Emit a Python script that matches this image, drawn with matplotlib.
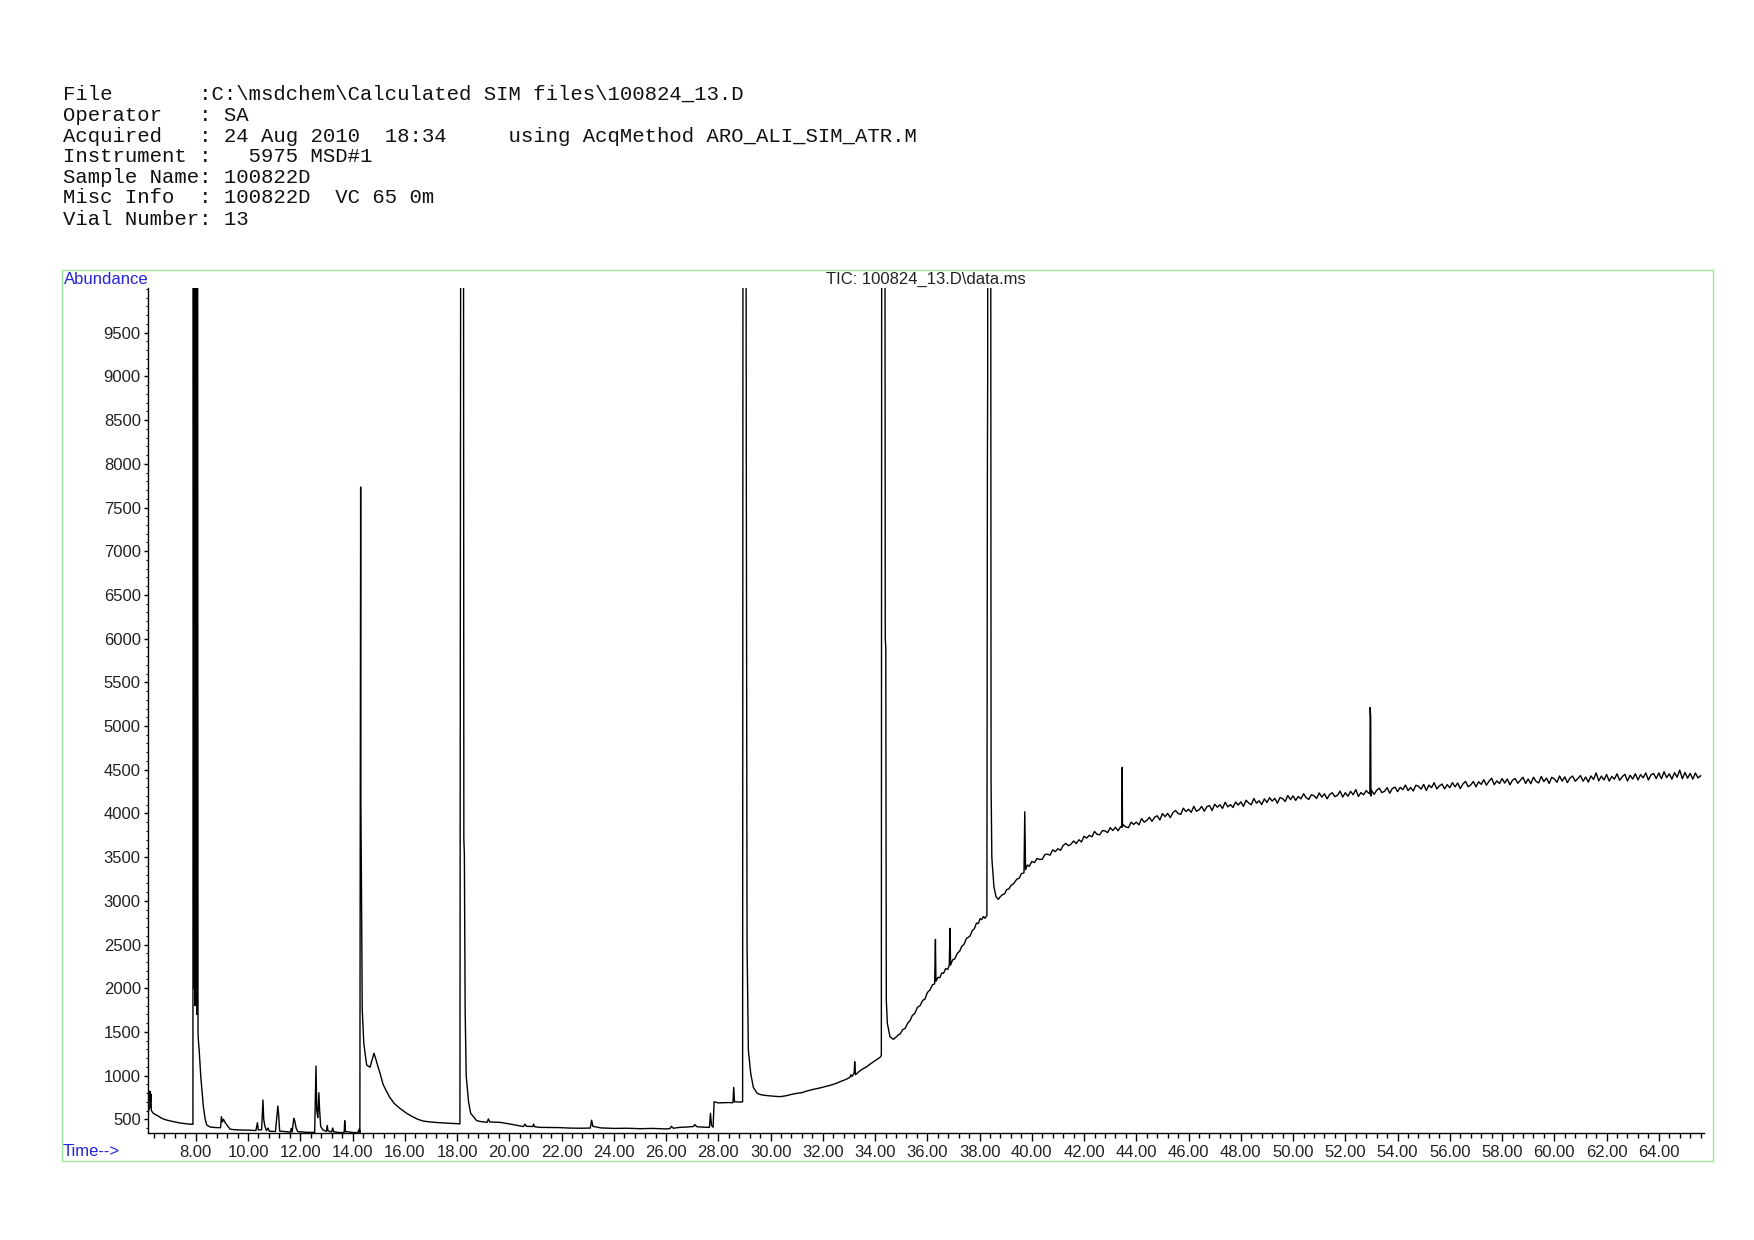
import matplotlib
matplotlib.use("Agg")
import matplotlib.pyplot as plt
from matplotlib.patches import Rectangle
from matplotlib.ticker import MultipleLocator, FormatStrFormatter

# figure size in pixels (dpi 100)
W, H = 1754, 1240

header_lines = [
    "File       :C:\\msdchem\\Calculated SIM files\\100824_13.D",
    "Operator   : SA",
    "Acquired   : 24 Aug 2010  18:34     using AcqMethod ARO_ALI_SIM_ATR.M",
    "Instrument :   5975 MSD#1",
    "Sample Name: 100822D",
    "Misc Info  : 100822D  VC 65 0m",
    "Vial Number: 13",
]
trace_title = "TIC: 100824_13.D\\data.ms"

# retention time (min) / abundance
# off-scale peaks are given a value above the plot top (clipped)
t_early = [6.15, 6.20, 6.24, 6.25, 6.27, 6.28, 6.30, 6.37, 6.45, 6.55, 6.65, 6.75, 6.90,
           7.05, 7.20, 7.40, 7.60, 7.75, 7.89,
           7.905, 7.925, 7.945, 7.965, 7.985, 8.005, 8.025, 8.045, 8.065, 8.085,
           8.10, 8.13, 8.19, 8.29, 8.36, 8.42, 8.55, 8.75, 8.95,
           8.98, 9.02, 9.06, 9.12, 9.20, 9.31, 9.50, 9.75, 10.00, 10.30, 10.36, 10.39, 10.52,
           10.57, 10.60, 10.64, 10.70, 10.77, 10.81, 11.05, 11.14, 11.17, 11.21, 11.50, 11.62,
           11.65, 11.69, 11.75, 11.79, 11.84, 11.90, 12.20, 12.55, 12.60, 12.63, 12.67, 12.71,
           12.74, 12.78, 12.86, 13.00, 13.03, 13.06, 13.20, 13.24, 13.28, 13.50, 13.68, 13.70,
           13.73, 14.00, 14.20, 14.26, 14.28,
           14.31, 14.32, 14.34, 14.37, 14.43, 14.54, 14.67, 14.75, 14.82, 14.88, 14.98, 15.05,
           15.17, 15.30, 15.43, 15.60, 15.81, 16.07, 16.32, 16.50, 16.71, 16.96, 17.30, 17.70,
           18.11,
           18.15, 18.24, 18.26, 18.28, 18.31, 18.35, 18.44, 18.52, 18.63, 18.75, 18.90, 19.15,
           19.20, 19.25, 19.65, 20.03, 20.30, 20.54, 20.60, 20.65, 20.90, 20.93, 20.97, 21.18,
           21.60, 21.95]
a_early = [620, 605, 640, 820, 700, 790, 600, 570, 555, 540, 520, 505, 490,
           480, 470, 458, 450, 445, 443,
           15000, 2000, 15000, 1800, 15000, 2200, 15000, 1700, 15000, 1500,
           1400, 1290, 990, 644, 500, 435, 412, 406, 404,
           530, 470, 500, 465, 430, 388, 380, 378, 376, 372, 462, 380, 380,
           721, 500, 430, 372, 400, 365, 360, 652, 560, 365, 358, 352,
           395, 355, 511, 480, 400, 360, 352, 350, 1110, 600, 520, 805,
           600, 420, 380, 362, 430, 368, 355, 400, 358, 348, 350, 484,
           360, 350, 348, 390, 348,
           7735, 4070, 3231, 1766, 1369, 1121, 1096, 1180, 1256, 1200, 1096, 1030,
           899, 820, 749, 680, 626, 569, 526, 500, 480, 470, 462, 455,
           448,
           15000, 15000, 3700, 3530, 1742, 998, 700, 570, 530, 485, 475, 465,
           505, 470, 465, 446, 430, 417, 445, 420, 418, 445, 415, 408,
           406, 405]

t_mid = [22.30, 22.70, 23.10, 23.15, 23.20, 23.50, 24.00, 24.50, 25.00, 25.50, 26.00, 26.15,
         26.20, 26.28, 26.53, 26.80, 27.05, 27.10, 27.18, 27.45, 27.66, 27.70, 27.74, 27.80,
         27.84, 28.00, 28.20, 28.40, 28.56, 28.59, 28.62, 28.80, 28.93,
         28.95, 29.05, 29.07, 29.10, 29.15, 29.24, 29.34, 29.49, 29.65, 29.85, 30.10, 30.36,
         30.60, 30.80, 31.00, 31.20, 31.40, 31.64, 31.90, 32.10, 32.28, 32.50, 32.70, 32.92,
         33.05, 33.07, 33.12, 33.20, 33.22, 33.25, 33.40, 33.55, 33.68, 33.85, 34.00, 34.19,
         34.24,
         34.26, 34.37, 34.39, 34.41, 34.43, 34.47, 34.57, 34.70, 34.82, 34.90, 34.96, 35.05,
         35.15, 35.25, 35.34, 35.43, 35.52, 35.62, 35.72, 35.82, 35.91, 36.00, 36.10, 36.20,
         36.28, 36.31, 36.33, 36.41, 36.48, 36.55, 36.62, 36.70, 36.78, 36.84,
         36.87, 36.89, 36.97, 37.05, 37.15, 37.24, 37.32, 37.40, 37.50, 37.63, 37.72, 37.80,
         37.88, 37.95, 38.02, 38.08, 38.15, 38.20, 38.28,
         38.30, 38.31, 38.32, 38.42, 38.44, 38.47, 38.55, 38.63, 38.72, 38.80, 38.88, 38.96,
         39.04, 39.12, 39.20, 39.30, 39.42, 39.52, 39.60, 39.70, 39.73, 39.76, 39.83, 39.90]
a_mid = [400, 398, 400, 490, 420, 402, 396, 398, 393, 396, 390, 395,
         420, 398, 408, 412, 418, 440, 415, 410, 408, 569, 430, 410,
         701, 688, 690, 692, 690, 866, 700, 698, 700,
         15000, 15000, 8250, 2500, 1293, 1026, 866, 797, 780, 772, 765, 759,
         770, 785, 797, 805, 825, 843, 860, 875, 889, 910, 935, 961,
         985, 1010, 990, 1030, 1159, 1010, 1050, 1080, 1102, 1140, 1170, 1209,
         1230,
         15000, 15000, 6000, 5900, 1865, 1598, 1445, 1415, 1445, 1470, 1475, 1525,
         1540, 1600, 1630, 1690, 1710, 1780, 1800, 1860, 1875, 1950, 1980, 2040,
         2050, 2559, 2080, 2125, 2120, 2175, 2170, 2225, 2215, 2262,
         2685, 2265, 2325, 2335, 2400, 2425, 2480, 2500, 2570, 2595, 2660, 2680,
         2745, 2740, 2795, 2785, 2820, 2800, 2830,
         8000, 8957, 15000, 15000, 4347, 3490, 3161, 3047, 3017, 3050, 3070, 3080,
         3130, 3135, 3175, 3195, 3245, 3260, 3310, 3320, 4019, 3355, 3410, 3395]

t_late = [40.0, 40.1, 40.2, 40.3, 40.4, 40.5, 40.6, 40.7, 40.8, 40.9,
          41.0, 41.1, 41.2, 41.3, 41.4, 41.5, 41.6, 41.7, 41.8, 41.9,
          42.0, 42.1, 42.2, 42.3, 42.4, 42.5, 42.6, 42.7, 42.8, 42.9,
          43.0, 43.1, 43.2, 43.3, 43.4, 43.45, 43.46, 43.47, 43.5, 43.6, 43.7, 43.8, 43.9,
          44.0, 44.1, 44.2, 44.3, 44.4, 44.5, 44.6, 44.7, 44.8, 44.9,
          45.0, 45.1, 45.2, 45.3, 45.4, 45.5, 45.6, 45.7, 45.8, 45.9,
          46.0, 46.1, 46.2, 46.3, 46.4, 46.5, 46.6, 46.7, 46.8, 46.9,
          47.0, 47.1, 47.2, 47.3, 47.4, 47.5, 47.6, 47.7, 47.8, 47.9,
          48.0, 48.1, 48.2, 48.3, 48.4, 48.5, 48.6, 48.7, 48.8, 48.9,
          49.0, 49.1, 49.2, 49.3, 49.4, 49.5, 49.6, 49.7, 49.8, 49.9,
          50.0, 50.1, 50.2, 50.3, 50.4, 50.5, 50.6, 50.7, 50.8, 50.9,
          51.0, 51.1, 51.2, 51.3, 51.4, 51.5, 51.6, 51.7, 51.8, 51.9,
          52.0, 52.1, 52.2, 52.3, 52.4, 52.5, 52.6, 52.7, 52.8, 52.9,
          52.94, 52.95, 52.97, 52.98,
          53.0, 53.1, 53.2, 53.3, 53.4, 53.5, 53.6, 53.7, 53.8, 53.9,
          54.0, 54.1, 54.2, 54.3, 54.4, 54.5, 54.6, 54.7, 54.8, 54.9,
          55.0, 55.1, 55.2, 55.3, 55.4, 55.5, 55.6, 55.7, 55.8, 55.9,
          56.0, 56.1, 56.2, 56.3, 56.4, 56.5, 56.6, 56.7, 56.8, 56.9,
          57.0, 57.1, 57.2, 57.3, 57.4, 57.5, 57.6, 57.7, 57.8, 57.9,
          58.0, 58.1, 58.2, 58.3, 58.4, 58.5, 58.6, 58.7, 58.8, 58.9,
          59.0, 59.1, 59.2, 59.3, 59.4, 59.5, 59.6, 59.7, 59.8, 59.9,
          60.0, 60.1, 60.2, 60.3, 60.4, 60.5, 60.6, 60.7, 60.8, 60.9,
          61.0, 61.1, 61.2, 61.3, 61.4, 61.5, 61.6, 61.7, 61.8, 61.9,
          62.0, 62.1, 62.2, 62.3, 62.4, 62.5, 62.6, 62.7, 62.8, 62.9,
          63.0, 63.1, 63.2, 63.3, 63.4, 63.5, 63.6, 63.7, 63.8, 63.9,
          64.0, 64.1, 64.2, 64.3, 64.4, 64.5, 64.6, 64.7, 64.8, 64.9,
          65.0, 65.1, 65.2, 65.3, 65.4, 65.5, 65.6]
a_late = [3450, 3437, 3485, 3473, 3475, 3530, 3533, 3523, 3583, 3563,
          3596, 3578, 3633, 3658, 3630, 3648, 3685, 3655, 3699, 3673,
          3739, 3718, 3750, 3732, 3794, 3761, 3756, 3803, 3800, 3780,
          3837, 3804, 3842, 3802, 3848, 3840, 4527, 3850, 3869, 3845, 3837, 3900, 3874,
          3900, 3869, 3941, 3900, 3919, 3956, 3909, 3956, 3973, 3925,
          3998, 3963, 4001, 3952, 4008, 4034, 3999, 3989, 4060, 4021,
          4048, 4012, 4081, 4025, 4040, 4080, 4025, 4076, 4091, 4033,
          4106, 4071, 4099, 4057, 4128, 4075, 4101, 4068, 4129, 4096,
          4132, 4081, 4151, 4119, 4099, 4171, 4117, 4145, 4101, 4167,
          4125, 4180, 4141, 4172, 4117, 4182, 4169, 4137, 4205, 4158,
          4201, 4149, 4194, 4166, 4225, 4181, 4159, 4213, 4203, 4172,
          4234, 4186, 4225, 4167, 4217, 4237, 4191, 4208, 4255, 4187,
          4237, 4196, 4253, 4213, 4272, 4194, 4239, 4213, 4261, 4229,
          4230, 5213, 5100, 4200,
          4265, 4218, 4265, 4289, 4238, 4253, 4295, 4231, 4285, 4301,
          4249, 4299, 4271, 4325, 4262, 4297, 4257, 4322, 4311, 4278,
          4332, 4262, 4324, 4295, 4352, 4280, 4315, 4336, 4281, 4329,
          4294, 4352, 4304, 4348, 4284, 4336, 4367, 4305, 4325, 4366,
          4304, 4362, 4333, 4386, 4323, 4369, 4402, 4329, 4372, 4341,
          4399, 4347, 4394, 4327, 4380, 4399, 4345, 4379, 4414, 4343,
          4394, 4340, 4414, 4367, 4349, 4423, 4364, 4405, 4343, 4413,
          4395, 4356, 4428, 4369, 4418, 4352, 4406, 4427, 4368, 4399,
          4433, 4368, 4417, 4358, 4429, 4388, 4463, 4372, 4427, 4383,
          4446, 4370, 4424, 4392, 4453, 4379, 4420, 4448, 4371, 4437,
          4393, 4454, 4383, 4444, 4407, 4463, 4382, 4441, 4457, 4398,
          4463, 4396, 4477, 4409, 4453, 4392, 4466, 4414, 4495, 4396,
          4469, 4403, 4458, 4392, 4462, 4406, 4431]

times = t_early + t_mid + t_late
abundance = a_early + a_mid + a_late


def fx(px):
    return px / W


def fy(py):
    return 1 - py / H


fig = plt.figure(figsize=(W / 100, H / 100), dpi=100)

# header block
header_y = [93.8, 115.1, 136.4, 156.5, 177.7, 197.9, 219.1]
for line, y in zip(header_lines, header_y):
    fig.text(fx(62.6), fy(y), line, family="Liberation Mono", fontsize=14.9,
             ha="left", va="center", color="#111111")

# green frame around the chart
fig.add_artist(Rectangle((fx(62), fy(1161)), fx(1712.6) - fx(62), fy(269.5) - fy(1161),
                         transform=fig.transFigure, fill=False, edgecolor="#9fe39f",
                         linewidth=1.0))

fig.text(fx(63.5), fy(279), "Abundance", family="Liberation Sans", fontsize=12,
         color="#2323d8", ha="left", va="center")
fig.text(fx(63), fy(1151), "Time-->", family="Liberation Sans", fontsize=12,
         color="#2323d8", ha="left", va="center")
fig.text(fx(925.5), fy(279.6), trace_title, family="Liberation Sans", fontsize=12,
         color="#222222", ha="center", va="center")

left, right, top, bottom = 147.7, 1704.3, 288.3, 1132.7
ax = fig.add_axes([fx(left), fy(bottom), fx(right) - fx(left), fy(top) - fy(bottom)])
ax.plot(times, abundance, color="black", linewidth=1.0)

ax.set_xlim(6.159, 65.74)
ax.set_ylim(347, 10008)

for side in ("top", "right"):
    ax.spines[side].set_visible(False)
for side in ("left", "bottom"):
    ax.spines[side].set_linewidth(1.0)
    ax.spines[side].set_color("black")

ax.xaxis.set_minor_locator(MultipleLocator(0.4))
ax.yaxis.set_minor_locator(MultipleLocator(100))

ax.tick_params(axis="x", which="major", length=6, width=1.0, pad=2.5, labelsize=12,
               labelcolor="#222222")
ax.tick_params(axis="x", which="minor", length=3.3, width=1.0)
ax.tick_params(axis="y", which="major", length=3, width=1.0, pad=2, labelsize=12,
               labelcolor="#222222")
ax.tick_params(axis="y", which="minor", length=1.5, width=0.8)

# x labels start at 8.00, y labels at 500
ax.set_xticks([v for v in range(8, 66, 2)])
ax.set_yticks([v for v in range(500, 10000, 500)])
ax.xaxis.set_major_formatter(FormatStrFormatter("%.2f"))
for lab in ax.get_xticklabels() + ax.get_yticklabels():
    lab.set_family("Liberation Sans")

fig.savefig("out.png", dpi=100)
